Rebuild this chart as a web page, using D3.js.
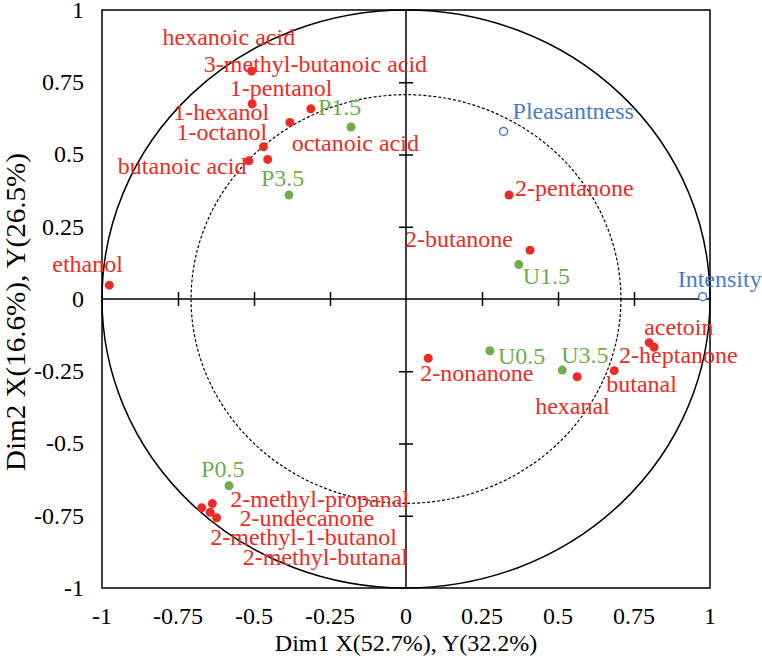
<!DOCTYPE html>
<html>
<head>
<meta charset="utf-8">
<script src="https://cdn.jsdelivr.net/npm/d3@7"></script>
<style>
  body { margin: 0; background: #fff; }
  svg text { font-family: "Liberation Serif", "Times New Roman", serif; }
</style>
</head>
<body>
<svg id="biplot" width="762" height="662"></svg>
<script>
// 1: DATA
const compoundNames = ["hexanoic acid", "1-hexanol", "3-methyl-butanoic acid", "1-pentanol", "1-octanol",
    "octanoic acid", "butanoic acid", "ethanol", "2-pentanone", "2-butanone", "2-nonanone", "hexanal",
    "butanal", "acetoin", "2-heptanone", "2-methyl-butanal", "2-methyl-propanal", "2-methyl-1-butanol",
    "2-undecanone"];
const compoundDim1 = [-0.508, -0.506, -0.313, -0.382, -0.469, -0.455, -0.517, -0.976, 0.339, 0.408, 0.073,
    0.563, 0.685, 0.800, 0.816, -0.672, -0.637, -0.644, -0.623];
const compoundDim2 = [0.789, 0.675, 0.658, 0.611, 0.527, 0.483, 0.478, 0.048, 0.360, 0.169, -0.205,
    -0.269, -0.248, -0.151, -0.167, -0.722, -0.708, -0.738, -0.757];

const sampleNames = ["P1.5", "P3.5", "U1.5", "U0.5", "U3.5", "P0.5"];
const sampleDim1 = [-0.181, -0.385, 0.371, 0.276, 0.514, -0.582];
const sampleDim2 = [0.595, 0.360, 0.119, -0.179, -0.246, -0.646];

const attributeNames = ["Pleasantness", "Intensity"];
const attributeDim1 = [0.321, 0.976];
const attributeDim2 = [0.580, 0.008];

const tickValues = [-1, -0.75, -0.5, -0.25, 0, 0.25, 0.5, 0.75, 1];
const innerRadius = 0.707;

// label placement (pixels from the point, text start / baseline)
const labelOffset = {
    "hexanoic acid": [-89, -26], "1-hexanol": [-79, 16], "3-methyl-butanoic acid": [-107, -37],
    "1-pentanol": [-60, -26], "1-octanol": [-87, -7], "octanoic acid": [24, -8], "butanoic acid": [-131, 13],
    "ethanol": [-57, -13], "2-pentanone": [6, 1], "2-butanone": [-125, -3], "2-nonanone": [-8, 23],
    "hexanal": [-42, 37], "butanal": [-8, 21], "acetoin": [-5, -8], "2-heptanone": [-35, 16],
    "2-methyl-butanal": [41, 57], "2-methyl-propanal": [18, 3], "2-methyl-1-butanol": [0, 33],
    "2-undecanone": [23, 8],
    "P1.5": [-33, -12], "P3.5": [-28, -9], "U1.5": [4, 19], "U0.5": [8, 13], "U3.5": [-1, -7], "P0.5": [-28, -9],
    "Pleasantness": [9, -12], "Intensity": [-25, -10]
};

const red = "#ee2a24", green = "#6fac4a", blue = "#4a7bc8";

// 2: SET UP SVG
const margin = { top: 10, right: 52, bottom: 74, left: 102 };
const width = 762 - margin.left - margin.right;
const height = 662 - margin.top - margin.bottom;

const svg = d3.select("#biplot")
    .append("g")
    .attr("transform", `translate(${margin.left},${margin.top})`);

// 3: SCALES
const x = d3.scaleLinear().domain([-1, 1]).range([0, width]);
const y = d3.scaleLinear().domain([-1, 1]).range([height, 0]);

// 4: FRAME, CIRCLES, ZERO AXES
svg.append("rect")
    .attr("width", width).attr("height", height)
    .attr("fill", "none").attr("stroke", "#000").attr("stroke-width", 1.5);

svg.append("ellipse")
    .attr("cx", x(0)).attr("cy", y(0))
    .attr("rx", x(1) - x(0)).attr("ry", y(0) - y(1))
    .attr("fill", "none").attr("stroke", "#000").attr("stroke-width", 1.5);

svg.append("ellipse")
    .attr("cx", x(0)).attr("cy", y(0))
    .attr("rx", x(innerRadius) - x(0)).attr("ry", y(0) - y(innerRadius))
    .attr("fill", "none").attr("stroke", "#000").attr("stroke-width", 1.2)
    .attr("stroke-dasharray", "3,2");

const xAxis = svg.append("g")
    .attr("transform", `translate(0,${y(0)})`)
    .call(d3.axisBottom(x).tickValues(tickValues.filter(d => d !== 0 && Math.abs(d) < 1))
        .tickSize(7).tickFormat(""));
xAxis.select(".domain").remove();
xAxis.selectAll(".tick line").attr("y1", -7).attr("stroke-width", 1.5);
svg.append("line")
    .attr("x1", 0).attr("x2", width).attr("y1", y(0)).attr("y2", y(0))
    .attr("stroke", "#000").attr("stroke-width", 1.5);

const yAxis = svg.append("g")
    .attr("transform", `translate(${x(0)},0)`)
    .call(d3.axisLeft(y).tickValues(tickValues.filter(d => d !== 0 && Math.abs(d) < 1))
        .tickSize(7).tickFormat(""));
yAxis.select(".domain").remove();
yAxis.selectAll(".tick line").attr("x1", 7).attr("stroke-width", 1.5);
svg.append("line")
    .attr("x1", x(0)).attr("x2", x(0)).attr("y1", 0).attr("y2", height)
    .attr("stroke", "#000").attr("stroke-width", 1.5);

// 5: TICK LABELS OUTSIDE THE FRAME
const fmt = d => d === 0 ? "0" : String(d);
svg.selectAll(".xtick")
    .data(tickValues).enter().append("text")
    .attr("x", d => x(d)).attr("y", height + 36)
    .attr("text-anchor", "middle").attr("font-size", 24)
    .text(fmt);
svg.selectAll(".ytick")
    .data(tickValues).enter().append("text")
    .attr("x", -18).attr("y", d => y(d)).attr("dy", "0.33em")
    .attr("text-anchor", "end").attr("font-size", 24)
    .text(fmt);

// 6: AXIS TITLES
svg.append("text")
    .attr("x", x(0)).attr("y", height + 63)
    .attr("text-anchor", "middle").attr("font-size", 24)
    .text("Dim1 X(52.7%), Y(32.2%)");
svg.append("text")
    .attr("transform", "rotate(-90)")
    .attr("x", -(y(0) + 13)).attr("y", 25 - margin.left)
    .attr("text-anchor", "middle").attr("font-size", 27)
    .attr("textLength", 318).attr("lengthAdjust", "spacingAndGlyphs")
    .text("Dim2 X(16.6%), Y(26.5%)");

// 7: POINTS AND LABELS
function drawGroup(names, d1, d2, color, hollow) {
    const rows = names.map((n, i) => ({ name: n, x: d1[i], y: d2[i] }));
    const g = svg.append("g");
    g.selectAll("circle").data(rows).enter().append("circle")
        .attr("cx", d => x(d.x)).attr("cy", d => y(d.y))
        .attr("r", hollow ? 4 : 4.5)
        .attr("fill", hollow ? "#fff" : color)
        .attr("stroke", hollow ? color : "none")
        .attr("stroke-width", 1.5);
    g.selectAll("text").data(rows).enter().append("text")
        .attr("x", d => x(d.x) + labelOffset[d.name][0])
        .attr("y", d => y(d.y) + labelOffset[d.name][1])
        .attr("font-size", 24).attr("fill", color)
        .text(d => d.name);
}

drawGroup(compoundNames, compoundDim1, compoundDim2, red, false);
drawGroup(sampleNames, sampleDim1, sampleDim2, green, false);
drawGroup(attributeNames, attributeDim1, attributeDim2, blue, true);
</script>
</body>
</html>
